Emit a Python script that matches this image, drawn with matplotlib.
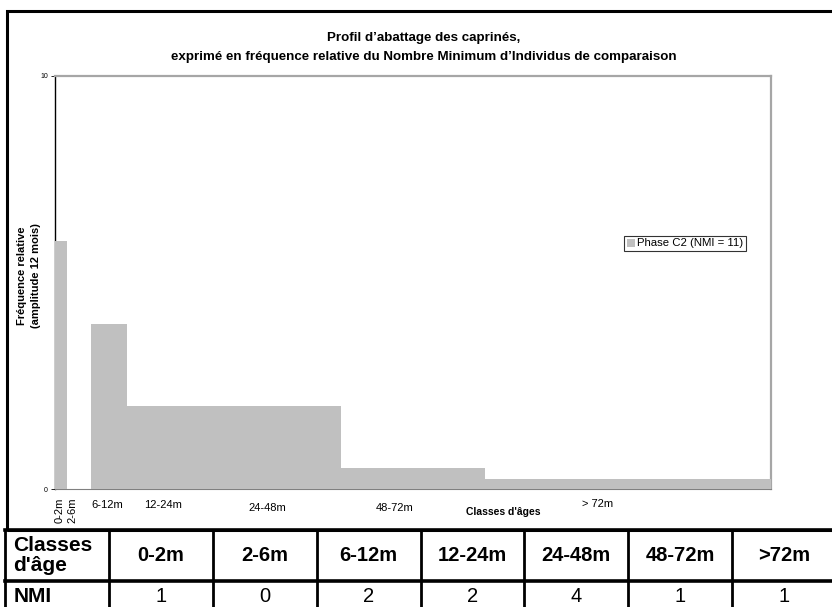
import matplotlib.pyplot as plt
from matplotlib.patches import Rectangle

# classes d'age (mois) et NMI
classes = ['0-2m', '2-6m', '6-12m', '12-24m', '24-48m', '48-72m', '>72m']
bornes = [0, 2, 6, 12, 24, 48, 72, 120]
nmi = [1, 0, 2, 2, 4, 1, 1]
# frequence relative (amplitude 12 mois)
freq = [6, 0, 4, 2, 2, 0.5, 0.25]

# etiquettes sous l'axe x : texte, position (mois), decalage (px), rotation
xlab_text = ['0-2m', '2-6m', '6-12m', '12-24m', '24-48m', '48-72m', '> 72m']
xlab_pos = [0.7, 2.9, 8.7, 18.1, 35.5, 57.0, 91.0]
xlab_dy = [21, 21, 16, 16, 19, 19, 15]
xlab_rot = [90, 90, 0, 0, 0, 0, 0]

plt.rcParams['font.family'] = ['Liberation Sans', 'DejaVu Sans']

W, H = 832, 607
fig = plt.figure(figsize=(W / 100, H / 100), dpi=100)

# cadre exterieur
fig.patches.append(Rectangle((7.5 / W, 1 - 530 / H), 1.0, (530 - 11) / H,
                             transform=fig.transFigure, fill=False,
                             edgecolor='black', linewidth=2.2))

ax = fig.add_axes([55 / W, 1 - 489 / H, (771 - 55) / W, (489 - 76) / H])
lefts = bornes[:-1]
widths = [b - a for a, b in zip(bornes[:-1], bornes[1:])]
ax.bar(lefts, freq, width=widths, align='edge', color='#c0c0c0',
       edgecolor='none', zorder=3, label='Phase C2 (NMI = 11)')
ax.set_xlim(0, 120)
ax.set_ylim(0, 10)
ax.set_xticks([])
ax.set_yticks([0, 10])
ax.tick_params(axis='y', labelsize=5, length=3, width=0.6, pad=2)
ax.spines['left'].set_color('black')
ax.spines['left'].set_linewidth(1.0)
for s in ['top', 'right']:
    ax.spines[s].set_color('#a6a6a6')
    ax.spines[s].set_linewidth(1.6)
ax.spines['bottom'].set_color('#808080')
ax.spines['bottom'].set_linewidth(0.8)

for t, x, dy, r in zip(xlab_text, xlab_pos, xlab_dy, xlab_rot):
    ax.annotate(t, xy=(x, 0), xycoords=('data', 'axes fraction'),
                xytext=(0, -dy), textcoords='offset pixels',
                ha='center', va='center', rotation=r, fontsize=8)
ax.annotate("Classes d'âges", xy=(75.2, 0), xycoords=('data', 'axes fraction'),
            xytext=(0, -23), textcoords='offset pixels',
            ha='center', va='center', fontsize=7.5, fontweight='bold')

leg = ax.legend(loc='center', bbox_to_anchor=(685 / W, 1 - 243.5 / H),
                bbox_transform=fig.transFigure, fontsize=8.2, frameon=True,
                fancybox=False, borderpad=0.25, handlelength=0.7,
                handleheight=0.7, handletextpad=0.2, borderaxespad=0)
leg.get_frame().set_edgecolor('black')
leg.get_frame().set_linewidth(0.8)

fig.text(424 / W, 1 - 38 / H, "Profil d’abattage des caprinés,",
         ha='center', va='center', fontsize=9.6, fontweight='bold')
fig.text(424 / W, 1 - 57 / H,
         "exprimé en fréquence relative du Nombre Minimum d’Individus de comparaison",
         ha='center', va='center', fontsize=9.6, fontweight='bold')
fig.text(29 / W, 1 - 276 / H, "Fréquence relative\n(amplitude 12 mois)",
         rotation=90, ha='center', va='center', fontsize=8,
         fontweight='bold', multialignment='center', linespacing=1.4)

# tableau
tax = fig.add_axes([5 / W, -5 / H, 836 / W - 5 / W, 82 / H])
tax.set_xlim(0, 8)
tax.set_ylim(0, 82)
tax.axis('off')
for y in [82, 31, 0]:
    tax.plot([0, 8], [y, y], color='black', lw=2.6, clip_on=False,
             solid_capstyle='projecting')
for x in range(9):
    tax.plot([x, x], [0, 82], color='black', lw=2.0, clip_on=False)
tax.text(0.08, 56.5, "Classes\nd'âge", ha='left', va='center', fontsize=15,
         fontweight='bold', linespacing=1.1)
tax.text(0.08, 15, "NMI", ha='left', va='center', fontsize=15,
         fontweight='bold')
for i, (c, n) in enumerate(zip(classes, nmi)):
    tax.text(i + 1.5, 56.5, c, ha='center', va='center', fontsize=14.5,
             fontweight='bold')
    tax.text(i + 1.5, 15, str(n), ha='center', va='center', fontsize=14.5)

fig.savefig('out.png', dpi=100)
